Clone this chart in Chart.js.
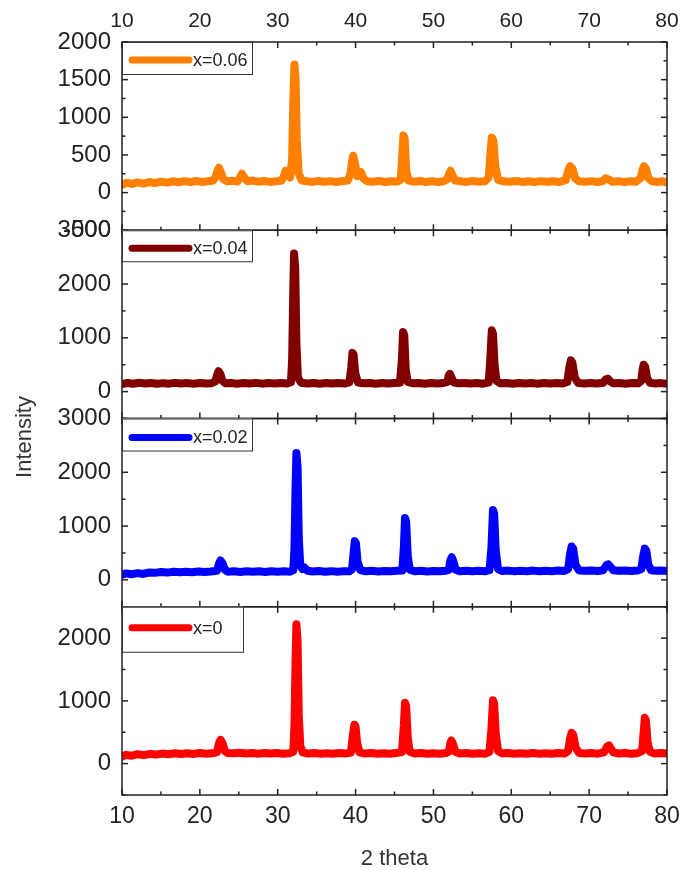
<!DOCTYPE html>
<html>
<head>
<meta charset="utf-8">
<title>XRD patterns</title>
<script src="https://cdn.jsdelivr.net/npm/chart.js@4.4.1/dist/chart.umd.min.js"></script>
<style>
  html, body { margin: 0; padding: 0; background: #fff; }
  canvas { display: block; }
</style>
</head>
<body>
<canvas id="xrdChart" width="683" height="870"></canvas>
<script>
// x axis (2 theta) tick labels
var thetaTicks = [10, 20, 30, 40, 50, 60, 70, 80];

// sample labels, top panel first
var sampleLabels = ['x=0.06', 'x=0.04', 'x=0.02', 'x=0'];
var sampleColors = ['#ff8000', '#800000', '#0000ff', '#ff0000'];

// y range per panel [min, max, major step]
var panelRanges = [[-500, 2000, 500], [-500, 3000, 1000], [-500, 3000, 1000], [-500, 2500, 1000]];

// labelled y ticks per panel
var yTicks006 = [-500, 0, 500, 1000, 1500, 2000];
var yTicks004 = [0, 1000, 2000, 3000];
var yTicks002 = [0, 1000, 2000, 3000];
var yTicks000 = [0, 1000, 2000];

// [2 theta, intensity]
var pattern006 = [
  [10,105],[10.6,130],[11.3,115],[12,135],[12.8,120],[13.5,140],[14.2,128],[15,145],[15.8,132],[16.5,150],
  [17.3,138],[18,152],[18.8,140],[19.5,155],[20.3,142],[21,150],[21.7,160],
  [22.0,200],[22.25,290],[22.45,330],[22.7,270],[23.0,180],[23.5,150],[24.2,158],[24.8,145],
  [25.1,190],[25.4,250],[25.7,200],[26.1,150],[26.8,160],[27.5,145],[28.2,155],[29,142],[29.8,150],[30.5,160],
  [30.8,220],[31.0,290],[31.3,230],[31.6,200],
  [31.85,450],[32.0,1200],[32.15,1700],[32.3,1500],[32.45,700],[32.7,250],[33.1,160],[33.8,150],[34.5,142],
  [35.2,155],[36,145],[36.8,152],[37.5,140],[38.2,150],[39,160],
  [39.35,260],[39.55,420],[39.7,490],[39.9,400],[40.2,220],[40.5,250],[40.7,270],[41.0,190],[41.5,150],
  [42.2,145],[43,155],[43.8,140],[44.6,150],[45.4,148],[45.8,170],
  [46.0,500],[46.15,760],[46.3,720],[46.5,300],[46.8,160],[47.5,145],[48.3,155],[49,140],[49.8,150],
  [50.6,142],[51.3,150],[51.8,180],
  [52.05,260],[52.2,290],[52.45,230],[52.8,160],[53.5,150],[54.3,142],[55,155],[55.8,145],[56.6,150],[57.1,200],
  [57.35,560],[57.5,730],[57.7,690],[57.95,350],[58.3,170],[59,150],[59.8,145],[60.6,155],[61.4,142],
  [62.2,150],[63,140],[63.8,152],[64.6,145],[65.4,150],[66.2,142],[67,165],
  [67.3,290],[67.55,350],[67.85,320],[68.2,190],[68.7,150],[69.5,145],[70.3,152],[71,140],[71.7,150],
  [72.1,190],[72.5,175],[73,145],[73.8,150],[74.5,142],[75.3,150],[76,145],[76.6,190],
  [76.85,300],[77.05,350],[77.3,320],[77.6,190],[78.1,150],[78.8,140],[79.4,150],[80,135]
];

var pattern004 = [
  [10,140],[10.7,160],[11.4,145],[12.2,165],[13,150],[13.7,160],[14.5,145],[15.3,158],[16,148],[16.8,162],
  [17.6,150],[18.4,158],[19.2,145],[20,160],[20.8,150],[21.5,155],[22.0,190],
  [22.2,300],[22.4,380],[22.65,320],[22.9,200],[23.3,155],[24,160],[24.8,148],[25.6,158],[26.4,150],
  [27.2,162],[28,148],[28.8,158],[29.6,150],[30.4,160],[31.2,152],[31.7,175],
  [31.85,600],[32.0,1900],[32.1,2570],[32.25,2300],[32.4,900],[32.6,260],[33,165],[33.8,150],[34.6,160],
  [35.4,148],[36.2,158],[37,150],[37.8,160],[38.6,150],[39.2,170],
  [39.45,450],[39.6,720],[39.75,690],[39.95,350],[40.3,170],[41,155],[41.8,160],[42.6,148],[43.4,158],
  [44.2,150],[45,160],[45.7,165],
  [45.95,600],[46.1,1110],[46.25,1050],[46.45,400],[46.7,180],[47.3,155],[48.1,160],[48.9,148],[49.7,158],
  [50.5,150],[51.3,160],[51.8,180],
  [51.95,290],[52.1,330],[52.3,270],[52.6,170],[53.2,155],[54,160],[54.8,150],[55.6,158],[56.4,148],[57.1,170],
  [57.3,600],[57.5,1140],[57.65,1080],[57.85,500],[58.1,200],[58.6,155],[59.4,160],[60.2,148],[61,158],
  [61.8,150],[62.6,160],[63.4,148],[64.2,158],[65,150],[65.8,160],[66.6,150],[67.2,180],
  [67.45,450],[67.65,580],[67.85,540],[68.15,260],[68.6,160],[69.4,150],[70.2,158],[71,150],[71.8,165],
  [72.15,230],[72.4,240],[72.7,190],[73.1,155],[73.9,160],[74.7,148],[75.5,158],[76.3,155],[76.7,200],
  [76.85,400],[77.0,500],[77.2,460],[77.45,250],[77.8,165],[78.5,150],[79.2,158],[80,145]
];

var pattern002 = [
  [10,95],[10.5,120],[11.2,105],[12,125],[12.7,110],[13.4,135],[14.2,130],[15,145],[15.8,135],[16.6,150],
  [17.4,140],[18.2,152],[19,142],[19.8,155],[20.6,145],[21.4,155],[22.2,170],
  [22.45,300],[22.65,360],[22.9,310],[23.2,190],[23.6,150],[24.4,158],[25.2,148],[26,160],[26.8,150],
  [27.6,158],[28.4,148],[29.2,160],[30,150],[30.8,158],[31.6,152],[32.0,180],
  [32.15,600],[32.3,1800],[32.4,2360],[32.55,2100],[32.7,800],[32.9,260],[33.2,200],[33.45,230],[33.8,170],
  [34.5,155],[35.3,165],[36.1,152],[36.9,162],[37.7,150],[38.5,162],[39.2,158],[39.55,200],
  [39.75,500],[39.9,720],[40.05,680],[40.25,350],[40.6,180],[41.3,160],[42.1,168],[42.9,155],[43.7,165],
  [44.5,158],[45.3,168],[46.0,175],
  [46.2,600],[46.35,1150],[46.5,1080],[46.7,450],[46.95,190],[47.6,160],[48.4,168],[49.2,155],[50,165],
  [50.8,158],[51.6,168],[52.0,190],
  [52.15,350],[52.35,420],[52.55,350],[52.85,190],[53.4,160],[54.2,168],[55,158],[55.8,168],[56.6,160],[57.2,180],
  [57.45,600],[57.65,1300],[57.8,1230],[58.0,550],[58.3,200],[58.8,165],[59.6,172],[60.4,160],[61.2,170],
  [62,162],[62.8,172],[63.6,160],[64.4,170],[65.2,162],[66,172],[66.8,165],[67.3,200],
  [67.55,480],[67.75,620],[67.95,580],[68.25,280],[68.7,175],[69.5,168],[70.3,175],[71.1,165],[71.8,180],
  [72.2,270],[72.45,290],[72.75,240],[73.1,180],[73.8,168],[74.6,175],[75.4,165],[76.2,172],[76.7,200],
  [76.95,450],[77.15,580],[77.35,540],[77.6,280],[77.95,180],[78.6,168],[79.3,175],[80,165]
];

var pattern000 = [
  [10,110],[10.5,140],[11.2,125],[12,150],[12.8,135],[13.6,155],[14.4,145],[15.2,160],[16,150],[16.8,165],
  [17.6,152],[18.4,165],[19.2,155],[20,168],[20.8,158],[21.6,165],[22.2,185],
  [22.45,320],[22.65,380],[22.9,330],[23.2,200],[23.6,170],[24.3,165],[25.1,172],[25.9,160],[26.7,170],
  [27.5,158],[28.3,168],[29.1,160],[29.9,170],[30.7,158],[31.5,165],[32.0,190],
  [32.15,600],[32.3,1700],[32.4,2220],[32.55,1950],[32.7,800],[32.9,280],[33.2,180],[33.9,160],[34.7,168],
  [35.5,158],[36.3,166],[37.1,156],[37.9,168],[38.7,160],[39.4,175],
  [39.65,450],[39.85,620],[40.0,590],[40.2,330],[40.5,180],[41.2,160],[42,168],[42.8,156],[43.6,166],
  [44.4,158],[45.2,168],[45.95,185],
  [46.2,600],[46.35,970],[46.5,920],[46.7,420],[46.95,190],[47.6,160],[48.4,168],[49.2,156],[50,166],
  [50.8,158],[51.6,168],[52.0,190],
  [52.15,320],[52.3,370],[52.5,320],[52.8,190],[53.4,162],[54.2,168],[55,158],[55.8,166],[56.6,158],[57.2,185],
  [57.45,550],[57.65,1010],[57.8,960],[58.0,480],[58.3,200],[58.8,165],[59.6,168],[60.4,158],[61.2,166],
  [62,156],[62.8,168],[63.6,158],[64.4,166],[65.2,156],[66,168],[66.8,160],[67.3,200],
  [67.55,400],[67.75,490],[67.95,460],[68.25,260],[68.7,170],[69.5,160],[70.3,168],[71.1,158],[71.9,180],
  [72.3,270],[72.55,290],[72.8,240],[73.1,180],[73.8,162],[74.6,168],[75.4,158],[76.2,166],[76.8,200],
  [77.0,500],[77.15,730],[77.3,690],[77.5,350],[77.8,190],[78.4,162],[79.2,168],[80,160]
];

var patterns = [pattern006, pattern004, pattern002, pattern000];
var yTickLists = [yTicks006, yTicks004, yTicks002, yTicks000];
var axisIds = ['y006', 'y004', 'y002', 'y000'];

// legend box sizes in each panel [width, height, line y]
var legendSizes = [[130, 32, 18], [130, 31, 18], [130, 32, 19], [121, 45, 21]];

var FONT = "'Liberation Sans', Arial, Helvetica, sans-serif";
var INK = '#222';

Chart.defaults.font.family = FONT;
Chart.defaults.color = INK;

// frames, inward ticks, per-panel legends and the shared y title
var panelFrames = {
    id: 'panelFrames',
    afterDatasetsDraw: function (chart) {
        var ctx = chart.ctx;
        var area = chart.chartArea;
        var xs = chart.scales.x;

        function seg(x1, y1, x2, y2) {
            ctx.beginPath();
            ctx.moveTo(x1, y1);
            ctx.lineTo(x2, y2);
            ctx.stroke();
        }

        ctx.save();
        chart.data.datasets.forEach(function (ds, i) {
            var ys = chart.scales[ds.yAxisID];
            var top = ys.top, bot = ys.bottom;
            var step = panelRanges[i][2];

            ctx.strokeStyle = INK;
            ctx.lineWidth = 1.5;
            ctx.strokeRect(area.left, top, area.right - area.left, bot - top);

            // x ticks on both edges of the panel
            for (var v = xs.min; v <= xs.max; v += 5) {
                var px = xs.getPixelForValue(v);
                var len = v % 10 === 0 ? 6 : 3.5;
                seg(px, top, px, top + len);
                seg(px, bot, px, bot - len);
            }
            // y ticks on left and right
            for (var w = ys.min; w <= ys.max; w += step / 2) {
                var py = ys.getPixelForValue(w);
                var l2 = Math.abs(w % step) === 0 ? 6 : 3.5;
                seg(area.left, py, area.left + l2, py);
                seg(area.right, py, area.right - l2, py);
            }

            // legend
            var lg = legendSizes[i];
            ctx.fillStyle = '#fff';
            ctx.fillRect(area.left, top, lg[0], lg[1]);
            ctx.lineWidth = 1;
            ctx.strokeStyle = '#333';
            ctx.strokeRect(area.left + 0.5, top + 0.5, lg[0], lg[1]);
            ctx.strokeStyle = ds.borderColor;
            ctx.lineWidth = 7;
            ctx.lineCap = 'round';
            seg(area.left + 10, top + lg[2], area.left + 67, top + lg[2]);
            ctx.lineCap = 'butt';
            ctx.fillStyle = INK;
            ctx.font = '18px ' + FONT;
            ctx.textBaseline = 'middle';
            ctx.textAlign = 'left';
            ctx.fillText(ds.label, area.left + 71, top + lg[2] + 1);
        });

        // shared y title
        ctx.translate(25, 437);
        ctx.rotate(-Math.PI / 2);
        ctx.textAlign = 'center';
        ctx.textBaseline = 'middle';
        ctx.fillStyle = '#333';
        ctx.font = '22px ' + FONT;
        ctx.fillText('Intensity', 0, 0);
        ctx.restore();
    }
};

function xAxis(position, height, size, pad) {
    return {
        type: 'linear',
        position: position,
        min: thetaTicks[0],
        max: thetaTicks[thetaTicks.length - 1],
        grid: { display: false, drawTicks: false },
        border: { display: false },
        ticks: {
            autoSkip: false,
            padding: pad,
            font: { size: size },
            color: INK,
            callback: function (v) { return String(v); }
        },
        afterBuildTicks: function (s) {
            s.ticks = thetaTicks.map(function (v) { return { value: v }; });
        },
        afterFit: function (s) {
            s.height = height;
            s.paddingLeft = 0;
            s.paddingRight = 16;
        }
    };
}

var scales = {
    x: xAxis('bottom', 75, 23, 8),
    xTop: xAxis('top', 42, 21, 8)
};
scales.x.title = { display: true, text: '2 theta', font: { size: 22 }, color: '#333', padding: { top: 0, bottom: -2 } };

axisIds.forEach(function (id, i) {
    var r = panelRanges[i];
    var list = yTickLists[i];
    scales[id] = {
        type: 'linear',
        position: 'left',
        stack: 'xrd',
        stackWeight: 1,
        weight: axisIds.length - i,
        min: r[0],
        max: r[1],
        grid: { display: false, drawTicks: false },
        border: { display: false },
        ticks: {
            autoSkip: false,
            padding: 11,
            font: { size: 24 },
            color: INK,
            callback: function (v) { return String(v); }
        },
        afterBuildTicks: function (s) {
            s.ticks = list.map(function (v) { return { value: v }; });
        },
        afterFit: function (s) { s.width = 122; }
    };
});

var datasets = patterns.map(function (p, i) {
    return {
        label: sampleLabels[i],
        data: p,
        yAxisID: axisIds[i],
        borderColor: sampleColors[i],
        backgroundColor: sampleColors[i],
        borderWidth: 8,
        pointRadius: 0,
        tension: 0,
        borderJoinStyle: 'round',
        borderCapStyle: 'round'
    };
});

var ctx = document.getElementById('xrdChart').getContext('2d');
var xrdChart = new Chart(ctx, {
    type: 'line',
    data: { datasets: datasets },
    options: {
        responsive: false,
        animation: false,
        layout: { padding: 0 },
        scales: scales,
        plugins: {
            legend: { display: false },
            tooltip: { enabled: false }
        }
    },
    plugins: [panelFrames]
});
</script>
</body>
</html>
